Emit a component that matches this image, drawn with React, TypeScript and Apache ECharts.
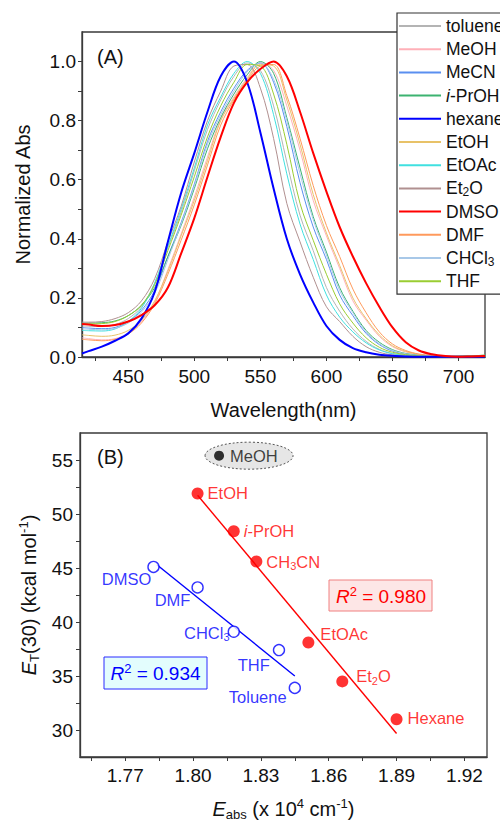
import React, { useEffect, useRef } from "react";
import * as echarts from "echarts";

const FONT = '"Liberation Sans", Arial, Helvetica, sans-serif';

// ---------- Panel A data ----------
const wavelengths = [415, 420, 430, 440, 450, 460, 470, 480, 490, 500, 510, 520, 530, 540, 550, 560, 570, 580, 590, 600, 610, 620, 630, 640, 650, 660, 670, 680, 690, 700, 710, 720];
const solvents = ["toluene", "MeOH", "MeCN", "i-PrOH", "hexane", "EtOH", "EtOAc", "Et2O", "DMSO", "DMF", "CHCl3", "THF"];

const tolueneAbs = [0.105, 0.104, 0.103, 0.11, 0.13, 0.17, 0.25, 0.37, 0.49, 0.63, 0.77, 0.87, 0.95, 0.995, 0.97, 0.85, 0.66, 0.48, 0.36, 0.235, 0.155, 0.095, 0.053, 0.026, 0.012, 0.006, 0.003, 0.002, 0.001, 0.002, 0.004, 0.006];
const meohAbs = [0.065, 0.062, 0.058, 0.062, 0.08, 0.12, 0.185, 0.296, 0.416, 0.541, 0.677, 0.805, 0.88, 0.945, 0.995, 0.97, 0.85, 0.7, 0.53, 0.41, 0.3, 0.19, 0.125, 0.07, 0.035, 0.017, 0.008, 0.004, 0.002, 0.002, 0.003, 0.004];
const mecnAbs = [0.1, 0.098, 0.096, 0.1, 0.12, 0.158, 0.225, 0.34, 0.455, 0.585, 0.73, 0.83, 0.91, 0.97, 0.995, 0.93, 0.78, 0.59, 0.44, 0.33, 0.21, 0.14, 0.08, 0.042, 0.02, 0.01, 0.005, 0.003, 0.002, 0.002, 0.003, 0.005];
const iprohAbs = [0.115, 0.115, 0.116, 0.122, 0.14, 0.175, 0.235, 0.34, 0.445, 0.57, 0.705, 0.81, 0.89, 0.955, 1.0, 0.96, 0.81, 0.64, 0.475, 0.355, 0.235, 0.155, 0.09, 0.05, 0.025, 0.012, 0.006, 0.003, 0.002, 0.003, 0.004, 0.006];
const hexaneAbs = [0.012, 0.02, 0.035, 0.055, 0.08, 0.13, 0.22, 0.39, 0.555, 0.69, 0.83, 0.95, 1.0, 0.93, 0.76, 0.57, 0.4, 0.28, 0.185, 0.105, 0.058, 0.03, 0.016, 0.008, 0.004, 0.002, 0.001, 0.001, 0.001, 0.001, 0.001, 0.002];
const etohAbs = [0.075, 0.073, 0.07, 0.074, 0.09, 0.125, 0.19, 0.29, 0.41, 0.53, 0.665, 0.8, 0.875, 0.94, 0.99, 0.985, 0.87, 0.72, 0.55, 0.42, 0.31, 0.2, 0.13, 0.075, 0.038, 0.019, 0.009, 0.004, 0.002, 0.002, 0.003, 0.004];
const etoacAbs = [0.09, 0.089, 0.088, 0.095, 0.12, 0.165, 0.25, 0.375, 0.5, 0.64, 0.785, 0.88, 0.96, 1.0, 0.96, 0.82, 0.62, 0.45, 0.33, 0.21, 0.135, 0.085, 0.048, 0.024, 0.011, 0.005, 0.003, 0.002, 0.001, 0.002, 0.003, 0.004];
const et2oAbs = [0.118, 0.118, 0.12, 0.13, 0.15, 0.19, 0.265, 0.39, 0.51, 0.66, 0.8, 0.9, 0.985, 0.99, 0.91, 0.74, 0.52, 0.39, 0.27, 0.17, 0.12, 0.07, 0.035, 0.016, 0.007, 0.003, 0.002, 0.001, 0.001, 0.002, 0.003, 0.004];
const dmsoAbs = [0.112, 0.11, 0.105, 0.108, 0.12, 0.142, 0.175, 0.235, 0.35, 0.47, 0.61, 0.745, 0.86, 0.93, 0.975, 1.0, 0.95, 0.83, 0.69, 0.56, 0.44, 0.34, 0.25, 0.17, 0.1, 0.05, 0.022, 0.009, 0.003, 0.001, 0.002, 0.003];
const dmfAbs = [0.06, 0.058, 0.055, 0.06, 0.078, 0.115, 0.18, 0.28, 0.395, 0.515, 0.65, 0.785, 0.87, 0.935, 0.985, 0.99, 0.885, 0.74, 0.58, 0.445, 0.34, 0.23, 0.15, 0.085, 0.044, 0.022, 0.01, 0.005, 0.002, 0.002, 0.003, 0.004];
const chcl3Abs = [0.095, 0.094, 0.092, 0.097, 0.115, 0.152, 0.215, 0.33, 0.45, 0.58, 0.72, 0.82, 0.9, 0.965, 0.995, 0.94, 0.8, 0.62, 0.465, 0.345, 0.225, 0.15, 0.085, 0.045, 0.022, 0.011, 0.005, 0.003, 0.002, 0.002, 0.003, 0.004];
const thfAbs = [0.112, 0.112, 0.113, 0.12, 0.14, 0.175, 0.245, 0.36, 0.48, 0.61, 0.745, 0.85, 0.93, 0.99, 0.985, 0.89, 0.72, 0.52, 0.395, 0.28, 0.18, 0.115, 0.065, 0.033, 0.016, 0.008, 0.004, 0.002, 0.001, 0.002, 0.004, 0.006];

const spectra = [tolueneAbs, meohAbs, mecnAbs, iprohAbs, hexaneAbs, etohAbs, etoacAbs, et2oAbs, dmsoAbs, dmfAbs, chcl3Abs, thfAbs];

const waveLabelTicks = [450, 500, 550, 600, 650, 700];
const waveMinorTicks = [425, 450, 475, 500, 525, 550, 575, 600, 625, 650, 675, 700];
const absLabelTicks = [0, 0.2, 0.4, 0.6, 0.8, 1.0];
const absMinorTicks = [0, 0.1, 0.2, 0.3, 0.4, 0.5, 0.6, 0.7, 0.8, 0.9, 1.0];

// ---------- Panel B data ----------
const redNames = ["EtOH", "i-PrOH", "CH3CN", "EtOAc", "Et2O", "Hexane"];
const redEabs = [1.802, 1.818, 1.828, 1.851, 1.866, 1.89];
const redET = [51.9, 48.4, 45.6, 38.1, 34.5, 31.0];
const blueNames = ["DMSO", "DMF", "CHCl3", "THF", "Toluene"];
const blueEabs = [1.7825, 1.802, 1.818, 1.838, 1.845];
const blueET = [45.1, 43.2, 39.1, 37.4, 33.9];
const meohName = "MeOH";
const meohPoint = [1.8115, 55.4];
const redFitX = [1.802, 1.89];
const redFitY = [51.74, 29.67];
const blueFitX = [1.784, 1.845];
const blueFitY = [45.3, 35.0];
const redR2 = "0.980";
const blueR2 = "0.934";

const eLabelTicks = [1.77, 1.8, 1.83, 1.86, 1.89, 1.92];
const eMinorTicks = [1.755, 1.77, 1.785, 1.8, 1.815, 1.83, 1.845, 1.86, 1.875, 1.89, 1.905, 1.92];
const etLabelTicks = [30, 35, 40, 45, 50, 55];
const etMinorTicks = [30, 32.5, 35, 37.5, 40, 42.5, 45, 47.5, 50, 52.5, 55];

// ---------- styles ----------
const lineColors: Record<string, string> = {
  toluene: "#b4b4b4",
  MeOH: "#ffb0b8",
  MeCN: "#5a8ff0",
  "i-PrOH": "#3cb371",
  hexane: "#0000ff",
  EtOH: "#e8c268",
  EtOAc: "#40e0e0",
  Et2O: "#b09090",
  DMSO: "#ff0000",
  DMF: "#ff9a5c",
  CHCl3: "#a8c8e8",
  THF: "#9acd32",
};
const thick: Record<string, boolean> = { hexane: true, DMSO: true };

const RED = "#ff0000";
const BLUE = "#0000ff";

const pointText: Record<string, string> = {
  "i-PrOH": "{it|i}{n|-PrOH}",
  CH3CN: "{n|CH}{sub|3}{n|CN}",
  Et2O: "{n|Et}{sub|2}{n|O}",
  CHCl3: "{n|CHCl}{sub|3}",
};
const legendText: Record<string, string> = {
  "i-PrOH": "{it|i}-PrOH",
  Et2O: "Et{sub|2}O",
  CHCl3: "CHCl{sub|3}",
};

const labelPlace: Record<string, { position: string; offset: number[] }> = {
  EtOH: { position: "right", offset: [-1, 0] },
  "i-PrOH": { position: "right", offset: [-1, 0] },
  CH3CN: { position: "right", offset: [-1, 0] },
  EtOAc: { position: "right", offset: [1, -9] },
  Et2O: { position: "right", offset: [3, -5] },
  Hexane: { position: "right", offset: [0, -1] },
  DMSO: { position: "left", offset: [9, 12] },
  DMF: { position: "left", offset: [4, 13] },
  CHCl3: { position: "left", offset: [7, 1] },
  THF: { position: "left", offset: [2, 15] },
  Toluene: { position: "left", offset: [3, 9] },
  MeOH: { position: "right", offset: [1, 0] },
};

function rich(size: number, color: string) {
  const small = Math.round(size * 0.66);
  const lh = size + 4;
  const slh = Math.round(size * 0.6);
  return {
    n: { fontSize: size, lineHeight: lh, color, fill: color, fontFamily: FONT },
    it: { fontSize: size, lineHeight: lh, fontStyle: "italic", color, fill: color, fontFamily: FONT },
    sub: { fontSize: small, lineHeight: slh, verticalAlign: "bottom", color, fill: color, fontFamily: FONT },
    sup: { fontSize: small, lineHeight: slh, verticalAlign: "top", color, fill: color, fontFamily: FONT },
  };
}

const AXIS_COLOR = "#3a3a3a";

function baseAxis() {
  return {
    axisLine: { show: true, onZero: false, lineStyle: { color: AXIS_COLOR, width: 1.3 } },
    splitLine: { show: false },
  };
}

export default function App() {
  const ref = useRef<HTMLDivElement>(null);

  useEffect(() => {
    if (!ref.current) return;
    const chart = echarts.init(ref.current, undefined, { renderer: "svg" });

    const spectraSeries = solvents.map((name, k) => ({
      type: "line",
      name,
      xAxisIndex: 0,
      yAxisIndex: 0,
      data: wavelengths.map((w, i) => [w, spectra[k][i]]),
      showSymbol: false,
      symbol: "none",
      smooth: 0.35,
      clip: true,
      z: thick[name] ? 4 : 3,
      lineStyle: { color: lineColors[name], width: thick[name] ? 2 : 1 },
      itemStyle: { color: lineColors[name] },
      emphasis: { disabled: true },
    }));

    const pointLabel = (color: string) => ({
      show: true,
      distance: 5,
      formatter: (p: any) => pointText[p.name] ?? `{n|${p.name}}`,
      rich: rich(16.5, color),
    });

    const makeItems = (names: string[], xs: number[], ys: number[]) =>
      names.map((n, i) => ({
        name: n,
        value: [xs[i], ys[i]],
        label: { position: labelPlace[n].position, offset: labelPlace[n].offset },
      }));

    const option: any = {
      animation: false,
      backgroundColor: "#ffffff",
      textStyle: { fontFamily: FONT },
      grid: [
        { left: 82, top: 32, right: 15, bottom: 465, show: true, borderColor: AXIS_COLOR, borderWidth: 1.3, containLabel: false },
        { left: 80, top: 433, right: 13, bottom: 63, show: true, borderColor: AXIS_COLOR, borderWidth: 1.3, containLabel: false },
      ],
      legend: {
        data: solvents,
        orient: "vertical",
        left: 397,
        top: 13,
        padding: [3, 8, 3, 1],
        itemWidth: 42,
        itemHeight: 14,
        itemGap: 3.2,
        backgroundColor: "#ffffff",
        borderColor: "#333333",
        borderWidth: 1.2,
        selectedMode: false,
        itemStyle: { color: "transparent", borderColor: "transparent", borderWidth: 0, opacity: 0 },
        formatter: (name: string) => legendText[name] ?? name,
        textStyle: {
          fontSize: 17.5,
          lineHeight: 20,
          color: "#111111",
          fontFamily: FONT,
          rich: {
            it: { fontSize: 17.5, lineHeight: 20, fontStyle: "italic", color: "#111111", fontFamily: FONT },
            sub: { fontSize: 12, lineHeight: 10, verticalAlign: "bottom", color: "#111111", fontFamily: FONT },
          },
        },
        z: 10,
      },
      xAxis: [
        {
          ...baseAxis(),
          type: "value",
          gridIndex: 0,
          min: 415,
          max: 720,
          name: "Wavelength(nm)",
          nameLocation: "middle",
          nameGap: 43,
          nameTextStyle: { fontSize: 20, color: "#111", fontFamily: FONT },
          axisTick: { show: true, length: 4, customValues: waveMinorTicks, lineStyle: { color: AXIS_COLOR } },
          axisLabel: { customValues: waveLabelTicks, fontSize: 19, color: "#111", margin: 10, fontFamily: FONT },
        },
        {
          ...baseAxis(),
          type: "value",
          gridIndex: 1,
          min: 1.75,
          max: 1.93,
          name: "{it|E}{sub|abs}{n| (x 10}{sup|4}{n| cm}{sup|-1}{n|)}",
          nameLocation: "middle",
          nameGap: 40,
          nameTextStyle: { rich: rich(20, "#111") },
          axisTick: { show: true, length: 4, customValues: eMinorTicks, lineStyle: { color: AXIS_COLOR } },
          axisLabel: {
            customValues: eLabelTicks,
            fontSize: 19,
            color: "#111",
            margin: 9,
            fontFamily: FONT,
            formatter: (v: number) => v.toFixed(2),
          },
        },
      ],
      yAxis: [
        {
          ...baseAxis(),
          type: "value",
          gridIndex: 0,
          min: 0,
          max: 1.1,
          name: "Normalized Abs",
          nameLocation: "middle",
          nameGap: 49,
          nameRotate: 90,
          nameTextStyle: { fontSize: 20, color: "#111", fontFamily: FONT },
          axisTick: { show: true, length: 4, customValues: absMinorTicks, lineStyle: { color: AXIS_COLOR } },
          axisLabel: {
            customValues: absLabelTicks,
            fontSize: 19,
            color: "#111",
            margin: 6,
            fontFamily: FONT,
            formatter: (v: number) => v.toFixed(1),
          },
        },
        {
          ...baseAxis(),
          type: "value",
          gridIndex: 1,
          min: 27.5,
          max: 57.5,
          name: "{it|E}{sub|T}{n|(30) (kcal mol}{sup|-1}{n|)}",
          nameLocation: "middle",
          nameGap: 33,
          nameRotate: 90,
          nameTextStyle: { rich: rich(20, "#111") },
          axisTick: { show: true, length: 4, customValues: etMinorTicks, lineStyle: { color: AXIS_COLOR } },
          axisLabel: { customValues: etLabelTicks, fontSize: 19, color: "#111", margin: 7, fontFamily: FONT },
        },
      ],
      series: [
        ...spectraSeries,
        {
          type: "line",
          name: "red-fit",
          xAxisIndex: 1,
          yAxisIndex: 1,
          data: redFitX.map((x, i) => [x, redFitY[i]]),
          symbol: "none",
          lineStyle: { color: RED, width: 1.4 },
          z: 2,
          emphasis: { disabled: true },
        },
        {
          type: "line",
          name: "blue-fit",
          xAxisIndex: 1,
          yAxisIndex: 1,
          data: blueFitX.map((x, i) => [x, blueFitY[i]]),
          symbol: "none",
          lineStyle: { color: BLUE, width: 1.4 },
          z: 2,
          emphasis: { disabled: true },
        },
        {
          type: "scatter",
          name: "red-points",
          xAxisIndex: 1,
          yAxisIndex: 1,
          symbol: "circle",
          symbolSize: 12,
          itemStyle: { color: RED },
          data: makeItems(redNames, redEabs, redET),
          label: pointLabel(RED),
          z: 4,
          emphasis: { disabled: true },
        },
        {
          type: "scatter",
          name: "blue-points",
          xAxisIndex: 1,
          yAxisIndex: 1,
          symbol: "circle",
          symbolSize: 11,
          itemStyle: { color: "#ffffff", borderColor: BLUE, borderWidth: 1.4 },
          data: makeItems(blueNames, blueEabs, blueET),
          label: pointLabel(BLUE),
          z: 4,
          emphasis: { disabled: true },
        },
        {
          type: "scatter",
          name: "meoh-point",
          xAxisIndex: 1,
          yAxisIndex: 1,
          symbol: "circle",
          symbolSize: 10,
          itemStyle: { color: "#000000" },
          data: [{ name: meohName, value: meohPoint, label: { position: labelPlace.MeOH.position, offset: labelPlace.MeOH.offset } }],
          label: pointLabel("#111111"),
          z: 5,
          emphasis: { disabled: true },
        },
      ],
    };

    chart.setOption(option);

    const mp = chart.convertToPixel({ xAxisIndex: 1, yAxisIndex: 1 }, meohPoint) as number[];
    const r2Rich = (c: string) => rich(19, c);

    chart.setOption({
      graphic: [
        {
          type: "ellipse",
          z: 1,
          shape: { cx: mp[0] + 30, cy: mp[1], rx: 44, ry: 13.5 },
          style: { fill: "#e6e6e6", stroke: "#555555", lineWidth: 1, lineDash: [2, 2] },
        },
        {
          type: "text",
          z: 6,
          x: 97,
          y: 57,
          style: { text: "(A)", fontSize: 20, fontFamily: FONT, fill: "#111", align: "left", verticalAlign: "middle" },
        },
        {
          type: "text",
          z: 6,
          x: 97,
          y: 457,
          style: { text: "(B)", fontSize: 20, fontFamily: FONT, fill: "#111", align: "left", verticalAlign: "middle" },
        },
        {
          type: "rect",
          z: 6,
          shape: { x: 329, y: 580, width: 103, height: 31 },
          style: { fill: "#fde6e6", stroke: "#f08080", lineWidth: 1 },
        },
        {
          type: "text",
          z: 7,
          x: 381,
          y: 596,
          style: {
            text: `{it|R}{sup|2}{n| = ${redR2}}`,
            rich: r2Rich(RED),
            align: "center",
            verticalAlign: "middle",
          },
        },
        {
          type: "rect",
          z: 6,
          shape: { x: 104, y: 657, width: 103, height: 32 },
          style: { fill: "#e3fdfd", stroke: "#2a2aff", lineWidth: 1 },
        },
        {
          type: "text",
          z: 7,
          x: 155.5,
          y: 673,
          style: {
            text: `{it|R}{sup|2}{n| = ${blueR2}}`,
            rich: r2Rich(BLUE),
            align: "center",
            verticalAlign: "middle",
          },
        },
      ],
    });

    return () => chart.dispose();
  }, []);

  return (
    <div
      ref={ref}
      style={{ position: "absolute", left: 0, top: 0, width: 500, height: 822, background: "#fff" }}
    />
  );
}
